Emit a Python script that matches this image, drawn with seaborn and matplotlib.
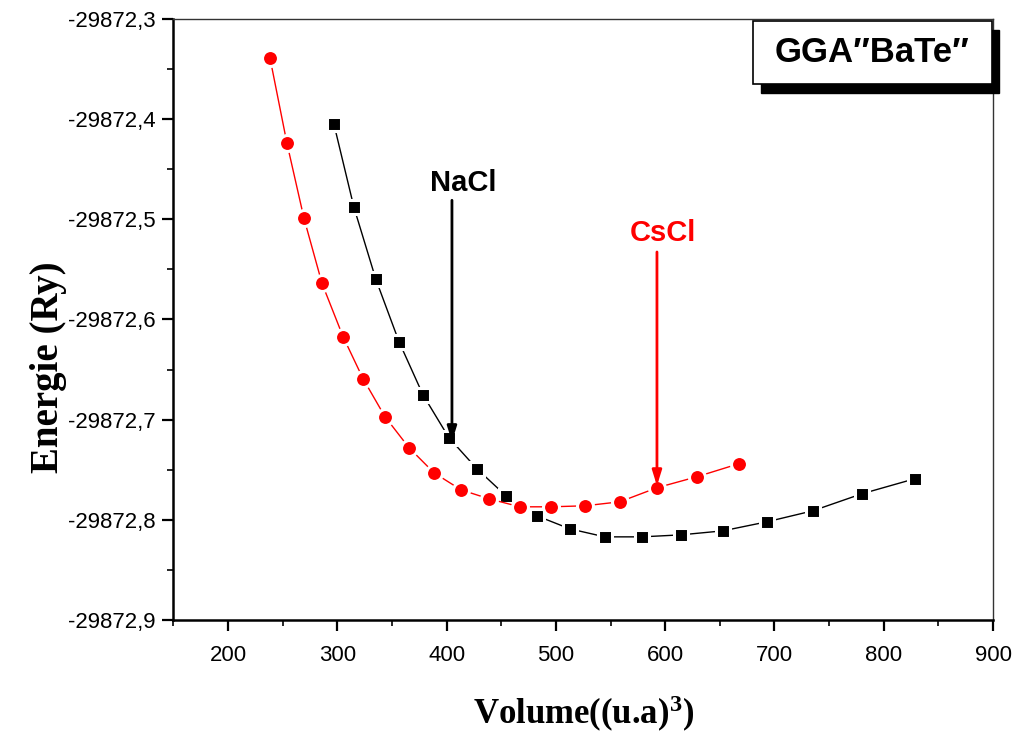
import numpy as np
import pandas as pd
import seaborn as sns
import matplotlib
matplotlib.use("Agg")
import matplotlib.pyplot as plt
from matplotlib.ticker import MultipleLocator, FuncFormatter
from matplotlib.patches import Rectangle

# ---------------- data ----------------
vol_nacl = [296.9, 315.2, 335.3, 356.4, 378.3, 402.1, 427.7, 454.3, 482.6,
            512.8, 544.8, 578.7, 614.4, 652.8, 693.0, 735.1, 780.0, 828.4]
e_nacl = [-29872.405, -29872.488, -29872.560, -29872.622, -29872.675, -29872.718,
          -29872.749, -29872.776, -29872.796, -29872.809, -29872.817, -29872.817,
          -29872.815, -29872.811, -29872.802, -29872.791, -29872.774, -29872.759]

vol_cscl = [238.4, 253.9, 269.5, 286.0, 305.2, 323.5, 343.6, 365.6, 388.4,
            413.1, 438.7, 467.1, 495.4, 526.5, 558.5, 592.4, 629.0, 667.4]
e_cscl = [-29872.339, -29872.424, -29872.499, -29872.564, -29872.617, -29872.659,
          -29872.697, -29872.728, -29872.753, -29872.770, -29872.779, -29872.787,
          -29872.787, -29872.786, -29872.782, -29872.768, -29872.757, -29872.744]

x_ticks = [200, 300, 400, 500, 600, 700, 800, 900]
y_ticks = [-29872.9, -29872.8, -29872.7, -29872.6, -29872.5, -29872.4, -29872.3]

title_text = "GGA\u2033BaTe\u2033"

# ---------------- figure ----------------
sns.set_style("white")
plt.rcParams['font.family'] = ['Liberation Sans', 'DejaVu Sans']
plt.rcParams['text.color'] = 'black'
plt.rcParams['axes.labelcolor'] = 'black'
plt.rcParams['mathtext.fontset'] = 'custom'
plt.rcParams['mathtext.rm'] = 'Liberation Serif:bold'
plt.rcParams['mathtext.it'] = 'Liberation Serif:bold'
plt.rcParams['mathtext.bf'] = 'Liberation Serif:bold'

W, H = 1017, 738
fig = plt.figure(figsize=(W / 100, H / 100), dpi=100)
L, R, T, B = 173.4, 993, 19, 620
ax = fig.add_axes([L / W, 1 - B / H, (R - L) / W, (B - T) / H])

df_n = pd.DataFrame({"V": vol_nacl, "E": e_nacl})
df_c = pd.DataFrame({"V": vol_cscl, "E": e_cscl})

sns.lineplot(data=df_n, x="V", y="E", ax=ax, color="black", linewidth=1.0,
             marker="s", markersize=9.5, markerfacecolor="black",
             markeredgecolor="white", markeredgewidth=2.2, sort=False, zorder=3)
sns.lineplot(data=df_c, x="V", y="E", ax=ax, color="red", linewidth=1.0,
             marker="o", markersize=11.5, markerfacecolor="red",
             markeredgecolor="white", markeredgewidth=2.2, sort=False, zorder=3)

ax.set_xlim(150, 900)
ax.set_ylim(-29872.9, -29872.3)
ax.set_xticks(x_ticks)
ax.set_yticks(y_ticks)
ax.xaxis.set_minor_locator(MultipleLocator(50))
ax.yaxis.set_minor_locator(MultipleLocator(0.05))
ax.yaxis.set_major_formatter(FuncFormatter(lambda v, p: f"{v:.1f}".replace(".", ",")))
ax.xaxis.set_major_formatter(FuncFormatter(lambda v, p: f"{v:.0f}"))

ax.tick_params(axis="both", which="major", direction="out", length=8, width=1.6,
               labelsize=16, color="black", labelcolor="black",
               bottom=True, left=True, top=False, right=False, pad=5)
ax.tick_params(axis="both", which="minor", direction="out", length=4.5, width=1.4,
               bottom=True, left=True, top=False, right=False)
ax.tick_params(axis="x", which="major", pad=10)

for side in ["left", "bottom"]:
    ax.spines[side].set_linewidth(1.8)
    ax.spines[side].set_color("black")
for side in ["top", "right"]:
    ax.spines[side].set_linewidth(1.0)
    ax.spines[side].set_color("#333333")
    ax.spines[side].set_visible(True)

ax.set_xlabel("Volume((u.a)$^{3}$)", fontsize=25, fontweight="bold",
              family="Liberation Serif", labelpad=20, color="black")
ax.set_ylabel("Energie (Ry)", fontsize=28, fontweight="bold",
              family="Liberation Serif", color="black")
ax.yaxis.set_label_coords(-0.13, 0.42)

# arrows and labels
ax.annotate("", xy=(404.9, -29872.722), xytext=(404.9, -29872.481),
            arrowprops=dict(arrowstyle="-|>,head_length=0.9,head_width=0.28",
                            lw=2.0, color="black", shrinkA=0, shrinkB=0), zorder=5)
ax.text(415, -29872.4637, "NaCl", fontsize=21, fontweight="heavy",
        ha="center", va="center", color="black")
ax.annotate("", xy=(592.5, -29872.766), xytext=(592.5, -29872.5326),
            arrowprops=dict(arrowstyle="-|>,head_length=0.9,head_width=0.28",
                            lw=2.0, color="red", shrinkA=0, shrinkB=0), zorder=5)
ax.text(598, -29872.5136, "CsCl", fontsize=21, fontweight="heavy",
        ha="center", va="center", color="red")

# title box with shadow
def fr(x0, y0, x1, y1):
    return (x0 / W, 1 - y1 / H), (x1 - x0) / W, (y1 - y0) / H

xy, w, h = fr(761, 30, 999, 93)
fig.patches.append(Rectangle(xy, w, h, transform=fig.transFigure,
                             facecolor="black", edgecolor="black", zorder=10))
xy, w, h = fr(753, 21, 992, 84)
fig.patches.append(Rectangle(xy, w, h, transform=fig.transFigure,
                             facecolor="white", edgecolor="black", linewidth=1.2, zorder=11))
fig.text(872 / W, 1 - 53 / H, title_text, fontsize=25, fontweight="heavy",
         ha="center", va="center", color="black", zorder=12,
         family=["Liberation Sans", "DejaVu Sans"])

fig.savefig("out.png", dpi=100)
